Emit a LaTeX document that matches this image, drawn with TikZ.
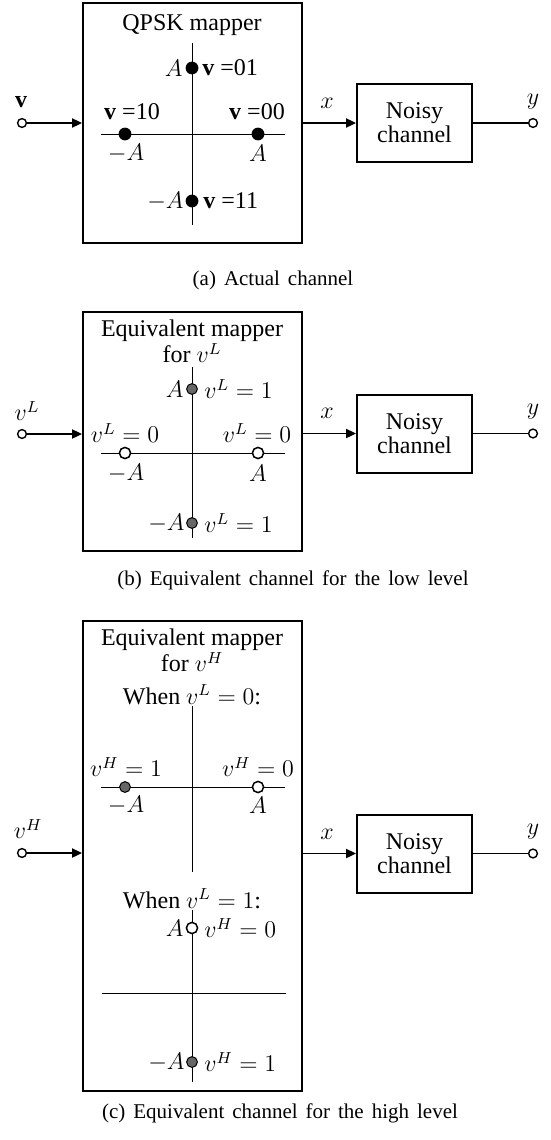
\documentclass[tikz,border=0pt]{standalone}
\usepackage{fontspec}
\setmainfont{Liberation Serif}
\usetikzlibrary{arrows.meta}
\newcommand\lblfont{\fontsize{12}{12}\selectfont}
\newcommand\capfont{\fontsize{10.5}{12}\selectfont\spaceskip=4pt plus 1pt}
\tikzset{
  mapbox/.style={draw, line width=1pt, inner sep=0pt, minimum width=109.5pt},
  chanbox/.style={draw, line width=1pt, minimum width=57.5pt, minimum height=39pt, align=center, font=\lblfont, inner sep=0pt},
  axisline/.style={line width=0.5pt},
  term/.style={circle, draw, line width=0.7pt, fill=white, minimum size=4.4pt, inner sep=0pt},
  bdot/.style={circle, fill=black, minimum size=6.4pt, inner sep=0pt},
  odot/.style={circle, draw, fill=white, line width=0.75pt, minimum size=5.6pt, inner sep=0pt},
  sdot/.style={circle, draw, line width=0.5pt, fill=gray!50!black!80, minimum size=5.4pt, inner sep=0pt},
  conn/.style={line width=0.8pt},
  arr/.style={conn, -{Triangle[length=5pt,width=4.6pt]}},
  lbl/.style={font=\lblfont, inner sep=0pt},
  captext/.style={font=\capfont, inner sep=0pt}
}
\begin{document}
\begin{tikzpicture}[x=0.5pt,y=-0.5pt]
\useasboundingbox (0,0) rectangle (551,1140);

% ================= (a) =================
\node[mapbox, minimum height=120pt] (mapA) at (192.5,123) {};
\node[lbl] (titA) at (192,25) {QPSK mapper};
\draw[axisline] (192,43) -- (192,225);
\draw[axisline] (101,134) -- (285,134);
\node[bdot] (a01) at (192,68) {};
\node[bdot] (a10) at (125,134) {};
\node[bdot] (a00) at (258,134) {};
\node[bdot] (a11) at (192,201) {};
\node[lbl, anchor=east] (aA1) at (183,68) {$A$};
\node[lbl, anchor=west] (aL01) at (202,68) {\textbf{v} =01};
\node[lbl] (aL10) at (132,112) {\textbf{v} =10};
\node[lbl] (aL00) at (257,112) {\textbf{v} =00};
\node[lbl] (aA2) at (126,153) {$-A$};
\node[lbl] (aA3) at (258,153) {$A$};
\node[lbl, anchor=east] (aA4) at (184,201) {$-A$};
\node[lbl, anchor=west] (aL11) at (203,201) {\textbf{v} =11};

\node[term] (inA) at (22,123) {};
\node[lbl] (inAl) at (21,102) {\textbf{v}};
\draw[arr] (inA) -- (inA -| mapA.west);
\node[chanbox] (chA) at (414.5,123) {Noisy\\channel};
\draw[arr] (mapA.east |- chA) -- (chA.west);
\node[lbl] (xA) at (327,103) {$x$};
\node[term] (outA) at (533,123) {};
\draw[conn] (chA.east) -- (outA);
\node[lbl] (yA) at (533,102) {$y$};
\node[captext] (capA) at (273,280) {(a) Actual channel};

% ================= (b) =================
\node[mapbox, minimum height=119.5pt] (mapB) at (192.5,431.5) {};
\node[lbl] (titB1) at (192,331) {Equivalent mapper};
\node[lbl] (titB2) at (192,353) {for $v^L$};
\draw[axisline] (192,367) -- (192,538);
\draw[axisline] (101,453) -- (285,453);
\node[sdot] (b1t) at (192,389) {};
\node[odot] (b0l) at (125,453) {};
\node[odot] (b0r) at (258,453) {};
\node[sdot] (b1b) at (192,523) {};
\node[lbl, anchor=east] (bA1) at (184,389) {$A$};
\node[lbl, anchor=west] (bL1t) at (204,389) {$v^L = 1$};
\node[lbl] (bL0l) at (125,433) {$v^L = 0$};
\node[lbl] (bL0r) at (257,433) {$v^L = 0$};
\node[lbl] (bA2) at (126,473) {$-A$};
\node[lbl] (bA3) at (258,473) {$A$};
\node[lbl, anchor=east] (bA4) at (185,523) {$-A$};
\node[lbl, anchor=west] (bL1b) at (204,523) {$v^L = 1$};

\node[term] (inB) at (22,434) {};
\node[lbl] (inBl) at (27,411) {$v^L$};
\draw[arr] (inB) -- (inB -| mapB.west);
\node[chanbox] (chB) at (414.5,433.5) {Noisy\\channel};
\draw[arr] (mapB.east |- chB) -- (chB.west);
\node[lbl] (xB) at (327,413) {$x$};
\node[term] (outB) at (533,433.5) {};
\draw[conn] (chB.east) -- (outB);
\node[lbl] (yB) at (533,412) {$y$};
\node[captext] (capB) at (293,580) {(b) Equivalent channel for the low level};

% ================= (c) =================
\node[mapbox, minimum height=235pt] (mapC) at (192.5,856) {};
\node[lbl] (titC1) at (192,640) {Equivalent mapper};
\node[lbl] (titC2) at (192,662) {for $v^H$};
\node[lbl] (whenC0) at (192,695) {When $v^L = 0$:};
\draw[axisline] (192,706) -- (192,872);
\draw[axisline] (101,787) -- (285,787);
\node[sdot] (c1l) at (125,787) {};
\node[odot] (c0r) at (258,787) {};
\node[lbl] (cL1l) at (126,767) {$v^H = 1$};
\node[lbl] (cL0r) at (258,767) {$v^H = 0$};
\node[lbl] (cA1) at (126,805) {$-A$};
\node[lbl] (cA2) at (258,805) {$A$};

\node[lbl] (whenC1) at (192,899) {When $v^L = 1$:};
\draw[axisline] (192,910) -- (192,1082);
\draw[axisline] (102,993) -- (286,993);
\node[odot] (c0t) at (192,928) {};
\node[sdot] (c1b) at (192,1062) {};
\node[lbl, anchor=east] (cA3) at (184,928) {$A$};
\node[lbl, anchor=west] (cL0t) at (204,928) {$v^H = 0$};
\node[lbl, anchor=east] (cA4) at (185,1062) {$-A$};
\node[lbl, anchor=west] (cL1b) at (204,1062) {$v^H = 1$};

\node[term] (inC) at (22,853) {};
\node[lbl] (inCl) at (28,829) {$v^H$};
\draw[arr] (inC) -- (inC -| mapC.west);
\node[chanbox] (chC) at (414.5,853.5) {Noisy\\channel};
\draw[arr] (mapC.east |- chC) -- (chC.west);
\node[lbl] (xC) at (327,834) {$x$};
\node[term] (outC) at (533,853.5) {};
\draw[conn] (chC.east) -- (outC);
\node[lbl] (yC) at (533,832) {$y$};
\node[captext] (capC) at (280,1113) {(c) Equivalent channel for the high level};
\end{tikzpicture}
\end{document}
